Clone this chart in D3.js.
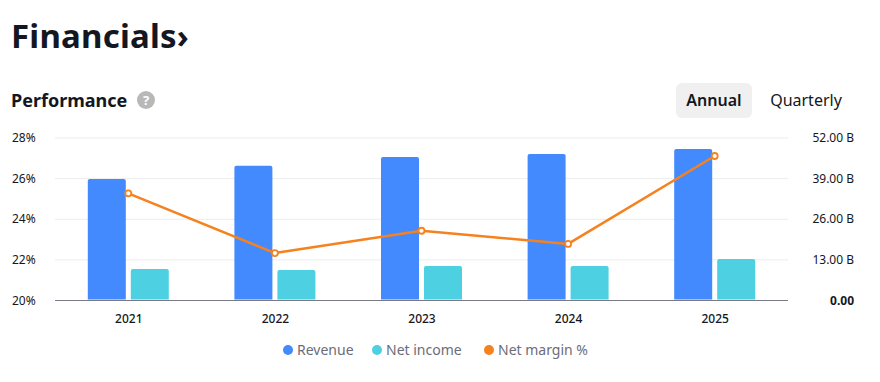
<!DOCTYPE html>
<html><head><meta charset="utf-8">
<script src="https://cdn.jsdelivr.net/npm/d3@7"></script>
<style>
html,body{margin:0;padding:0;background:#fff;}
svg{display:block;}
</style></head>
<body>
<svg id="c" width="880" height="382"></svg>
<script>
const years = ["2021","2022","2023","2024","2025"];
const revenue = [38.7, 43.0, 45.8, 46.7, 48.3];      // billions
const netIncome = [9.9, 9.6, 10.9, 10.9, 13.1];      // billions
const netMargin = [25.25, 22.31, 23.41, 22.76, 27.09]; // percent
const leftTicks = [20, 22, 24, 26, 28];
const rightTicks = [0, 13, 26, 39, 52];
const seriesNames = ["Revenue", "Net income", "Net margin %"];
const colors = ["#448aff", "#4dd0e1", "#f5821f"];

const svg = d3.select("#c");
const font = "'Noto Sans', sans-serif";
const L = 55, R = 788, T = 137.5, B = 300;

// Header
svg.append("text").attr("x", 11).attr("y", 48).attr("font-family", font)
  .attr("font-weight", 700).attr("font-size", 33).attr("fill", "#131722")
  .attr("letter-spacing", "0.2").text("Financials\u203A");
svg.append("text").attr("x", 11).attr("y", 107).attr("font-family", font)
  .attr("font-weight", 700).attr("font-size", 18).attr("fill", "#131722").text("Performance");
svg.append("circle").attr("cx", 146).attr("cy", 100).attr("r", 9).attr("fill", "#b8b8b8");
svg.append("text").attr("x", 146).attr("y", 105).attr("text-anchor", "middle").attr("font-family", font)
  .attr("font-weight", 700).attr("font-size", 13).attr("fill", "#fff").text("?");

svg.append("rect").attr("x", 676).attr("y", 83).attr("width", 76).attr("height", 35).attr("rx", 6).attr("fill", "#f0f0f0");
svg.append("text").attr("x", 714).attr("y", 106).attr("text-anchor", "middle").attr("font-family", font)
  .attr("font-weight", 600).attr("font-size", 16).attr("fill", "#131722").text("Annual");
svg.append("text").attr("x", 806).attr("y", 106).attr("text-anchor", "middle").attr("font-family", font)
  .attr("font-weight", 400).attr("font-size", 16).attr("fill", "#131722").text("Quarterly");

// Scales
const x = d3.scalePoint().domain(years).range([L, R]).padding(0.5);
const xs = d3.scaleBand().domain([0, 1]).range([-40.5, 40.5]).paddingInner(5/43);
const yL = d3.scaleLinear().domain([20, 28]).range([B, T]);
const yR = d3.scaleLinear().domain([0, 52]).range([B, T]);

// Grid
const g = svg.append("g");
g.selectAll("line.grid").data(leftTicks.slice(1)).join("line")
  .attr("x1", L).attr("x2", R).attr("y1", d => yL(d) + 0.5).attr("y2", d => yL(d) + 0.5)
  .attr("stroke", "#ececec").attr("stroke-width", 1);

// Left axis labels
const axL = d3.axisLeft(yL).tickValues(leftTicks).tickFormat(d => d + "%").tickSize(0);
const gl = svg.append("g").attr("transform", `translate(12,0)`).call(axL);
gl.select(".domain").remove();
gl.selectAll("text").attr("text-anchor", "start").attr("x", 0).attr("dy", "0.35em")
  .attr("font-family", font).attr("font-size", 12).attr("fill", "#131722");

// Right axis labels
const axR = d3.axisRight(yR).tickValues(rightTicks)
  .tickFormat(d => d === 0 ? "0.00" : d.toFixed(2) + " B").tickSize(0);
const gr = svg.append("g").attr("transform", `translate(854,0)`).call(axR);
gr.select(".domain").remove();
gr.selectAll("text").attr("text-anchor", "end").attr("x", 0).attr("dy", "0.35em")
  .attr("font-family", font).attr("font-size", 12).attr("fill", "#131722")
  .attr("font-weight", d => d === 0 ? 700 : 400);

// Bars
const bars = svg.append("g");
const barData = [];
years.forEach((yr, i) => {
  barData.push({yr, k: 0, v: revenue[i]});
  barData.push({yr, k: 1, v: netIncome[i]});
});
bars.selectAll("path").data(barData).join("path")
  .attr("d", d => {
    const x0 = x(d.yr) + xs(d.k), w = xs.bandwidth(), y0 = yR(d.v), y1 = B - 0.5, r = 2;
    return `M${x0},${y1}V${y0 + r}Q${x0},${y0} ${x0 + r},${y0}H${x0 + w - r}Q${x0 + w},${y0} ${x0 + w},${y0 + r}V${y1}Z`;
  })
  .attr("fill", d => colors[d.k]);

// Baseline
svg.append("line").attr("x1", L).attr("x2", R).attr("y1", B + 0.5).attr("y2", B + 0.5)
  .attr("stroke", "#787b86").attr("stroke-width", 1);

// Line
const line = d3.line().x((d, i) => x(years[i])).y(d => yL(d));
svg.append("path").datum(netMargin).attr("d", line).attr("fill", "none")
  .attr("stroke", colors[2]).attr("stroke-width", 2.5).attr("stroke-linejoin", "round");
svg.selectAll("circle.pt").data(netMargin).join("circle").attr("class", "pt")
  .attr("cx", (d, i) => x(years[i])).attr("cy", d => yL(d)).attr("r", 3)
  .attr("fill", "#fff").attr("stroke", colors[2]).attr("stroke-width", 1.8);

// X labels
const axX = d3.axisBottom(x).tickSize(0);
const gx = svg.append("g").attr("transform", `translate(0,${B})`).call(axX);
gx.select(".domain").remove();
gx.selectAll("text").attr("y", 14).attr("dy", "0.71em").attr("font-family", font)
  .attr("font-size", 12).attr("font-weight", 500).attr("fill", "#131722");

// Legend
const legendX = [288, 377, 489];
const lg = svg.append("g");
seriesNames.forEach((n, i) => {
  lg.append("circle").attr("cx", legendX[i]).attr("cy", 350).attr("r", 5).attr("fill", colors[i]);
  lg.append("text").attr("x", legendX[i] + 9).attr("y", 355).attr("font-family", font)
    .attr("font-size", 14).attr("fill", "#6a6d78").text(n);
});
</script>
</body></html>
